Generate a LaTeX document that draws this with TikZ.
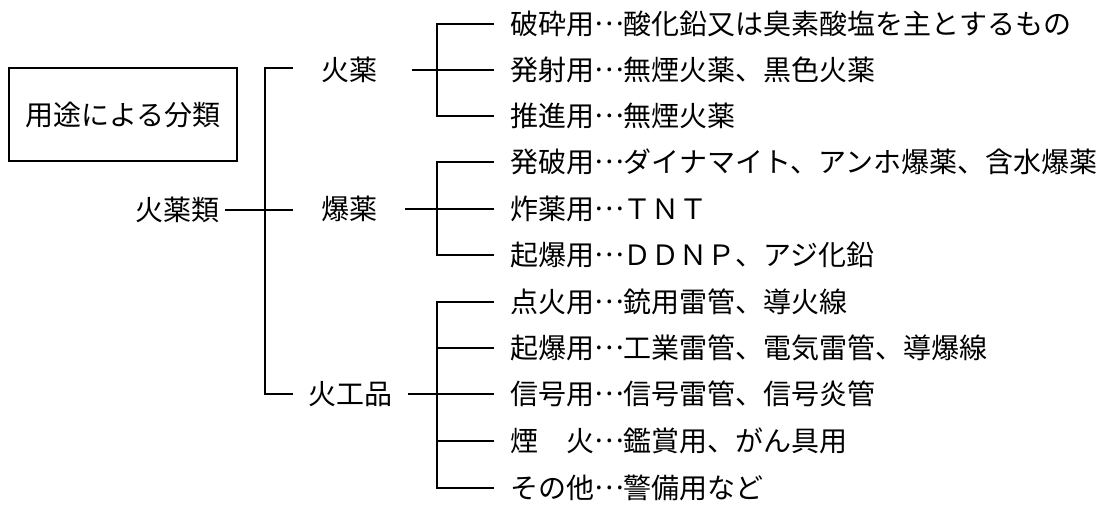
\documentclass[tikz,border=0pt]{standalone}
\usepackage{fontspec}
\setmainfont{Noto Sans CJK JP}
\newcommand\middots{\raisebox{0.31em}{…}}
\begin{document}
\begin{tikzpicture}[x=1pt,y=-1pt,
  lbl/.style={font=\fontsize{28pt}{30pt}\selectfont, inner sep=0pt, text height=24.6pt, text depth=3.4pt},
  leaf/.style={lbl, anchor=west},
  conn/.style={line width=1.6pt},
  boxst/.style={draw, line width=1.6pt, minimum width=228pt, minimum height=93pt, inner sep=0pt}]
\useasboundingbox (0,0) rectangle (1114,517);
% root box
\node[lbl,boxst] (root) at (123,114.5) {用途による分類};
% level 1 and 2
\node[lbl,anchor=east] (kayakurui) at (220,210) {火薬類};
\node[lbl] (kayaku) at (349,70) {火薬};
\node[lbl] (bakuyaku) at (349,209) {爆薬};
\node[lbl] (kakouhin) at (350,394) {火工品};
\coordinate (mt) at (265,68);
\coordinate (mb) at (265,394);
\coordinate (me1) at (293,68);
\coordinate (me2) at (293,210);
\coordinate (me3) at (293,394);
\draw[conn] (me1) -- (mt) -- (mb) -- (me3);
\draw[conn] ([xshift=5pt]kayakurui.east) -- (me2);
% leaves
\node[leaf] (a1) at (510,24) {破砕用\middots 酸化鉛又は臭素酸塩を主とするもの};
\node[leaf] (a2) at (510,70) {発射用\middots 無煙火薬、黒色火薬};
\node[leaf] (a3) at (510,116) {推進用\middots 無煙火薬};
\node[leaf] (b1) at (510,162) {発破用\middots ダイナマイト、アンホ爆薬、含水爆薬};
\node[leaf] (b2) at (510,209) {炸薬用\middots ＴＮＴ};
\node[leaf] (b3) at (510,255) {起爆用\middots ＤＤＮＰ、アジ化鉛};
\node[leaf] (c1) at (510,302) {点火用\middots 銃用雷管、導火線};
\node[leaf] (c2) at (510,348) {起爆用\middots 工業雷管、電気雷管、導爆線};
\node[leaf] (c3) at (510,394) {信号用\middots 信号雷管、信号炎管};
\node[leaf] (c4) at (510,441) {煙　火\middots 鑑賞用、がん具用};
\node[leaf] (c5) at (510,488) {その他\middots 警備用など};
% group 1
\draw[conn] ([xshift=-16pt]a1.west) -| ([xshift=-73pt]a3.west) -- ([xshift=-16pt]a3.west);
\draw[conn] ([xshift=35pt]kayaku.east) -- ([xshift=-16pt]a2.west);
% group 2
\draw[conn] ([xshift=-16pt]b1.west) -| ([xshift=-73pt]b3.west) -- ([xshift=-16pt]b3.west);
\draw[conn] ([xshift=28pt]bakuyaku.east) -- ([xshift=-16pt]b2.west);
% group 3
\draw[conn] ([xshift=-16pt]c1.west) -| ([xshift=-73pt]c5.west) -- ([xshift=-16pt]c5.west);
\draw[conn] ([xshift=-73pt]c2.west) -- ([xshift=-16pt]c2.west);
\draw[conn] ([xshift=-73pt]c4.west) -- ([xshift=-16pt]c4.west);
\draw[conn] ([xshift=16pt]kakouhin.east) -- ([xshift=-16pt]c3.west);
\end{tikzpicture}
\end{document}
